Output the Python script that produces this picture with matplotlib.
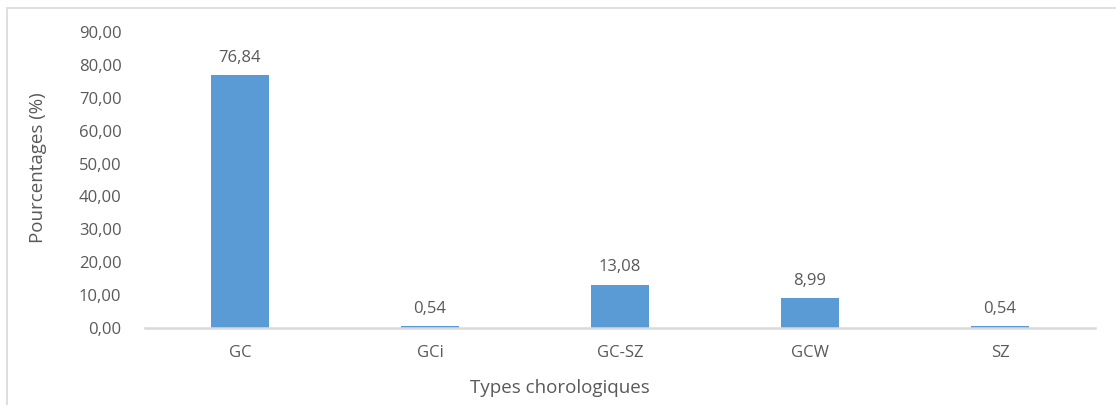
import matplotlib.pyplot as plt
from matplotlib.patches import Rectangle

categories = ["GC", "GCi", "GC-SZ", "GCW", "SZ"]
percentages = [76.84, 0.54, 13.08, 8.99, 0.54]
y_ticks = [0, 10, 20, 30, 40, 50, 60, 70, 80, 90]

BAR_COLOR = "#5B9BD5"
TEXT_COLOR = "#595959"
LINE_COLOR = "#D9D9D9"

plt.rcParams['font.family'] = ['Open Sans', 'DejaVu Sans']


def fmt(v):
    return "{:.2f}".format(v).replace(".", ",")


def main():
    W, H = 1116, 405
    fig = plt.figure(figsize=(W / 100, H / 100), dpi=100)

    # chart border (cut at right and bottom)
    fig.patches.append(Rectangle((7 / W, -0.1), 1.2, (H - 8) / H + 0.1,
                                 transform=fig.transFigure, fill=False,
                                 edgecolor=LINE_COLOR, linewidth=1.2))

    ax = fig.add_axes([145 / W, (H - 328) / H, 950 / W, 296 / H])
    x = list(range(len(categories)))
    bars = ax.bar(x, percentages, width=0.305, color=BAR_COLOR, zorder=2)

    for b, v in zip(bars, percentages):
        ax.annotate(fmt(v), (b.get_x() + b.get_width() / 2, v),
                    xytext=(0, 7), textcoords="offset points",
                    ha="center", va="bottom", fontsize=12, color=TEXT_COLOR)

    ax.set_xlim(-0.5, len(categories) - 0.5)
    ax.set_ylim(0, 90)
    ax.set_yticks(y_ticks)
    ax.set_yticklabels([fmt(t) for t in y_ticks])
    ax.set_xticks(x)
    ax.set_xticklabels(categories)
    ax.tick_params(axis="both", length=0, labelsize=12, colors=TEXT_COLOR)
    ax.tick_params(axis="y", pad=17)
    ax.tick_params(axis="x", pad=12)

    for s in ["top", "right", "left"]:
        ax.spines[s].set_visible(False)
    ax.spines["bottom"].set_color(LINE_COLOR)
    ax.spines["bottom"].set_linewidth(1.8)
    ax.spines["bottom"].set_zorder(3)

    fig.text(38 / W, 1 - 168 / H, "Pourcentages (%)", rotation=90,
             ha="center", va="center", fontsize=13.5, color=TEXT_COLOR)
    fig.text(560 / W, 1 - 388 / H, "Types chorologiques",
             ha="center", va="center", fontsize=13.5, color=TEXT_COLOR)

    fig.savefig("out.png", dpi=100, facecolor="white")


if __name__ == '__main__':
    main()
